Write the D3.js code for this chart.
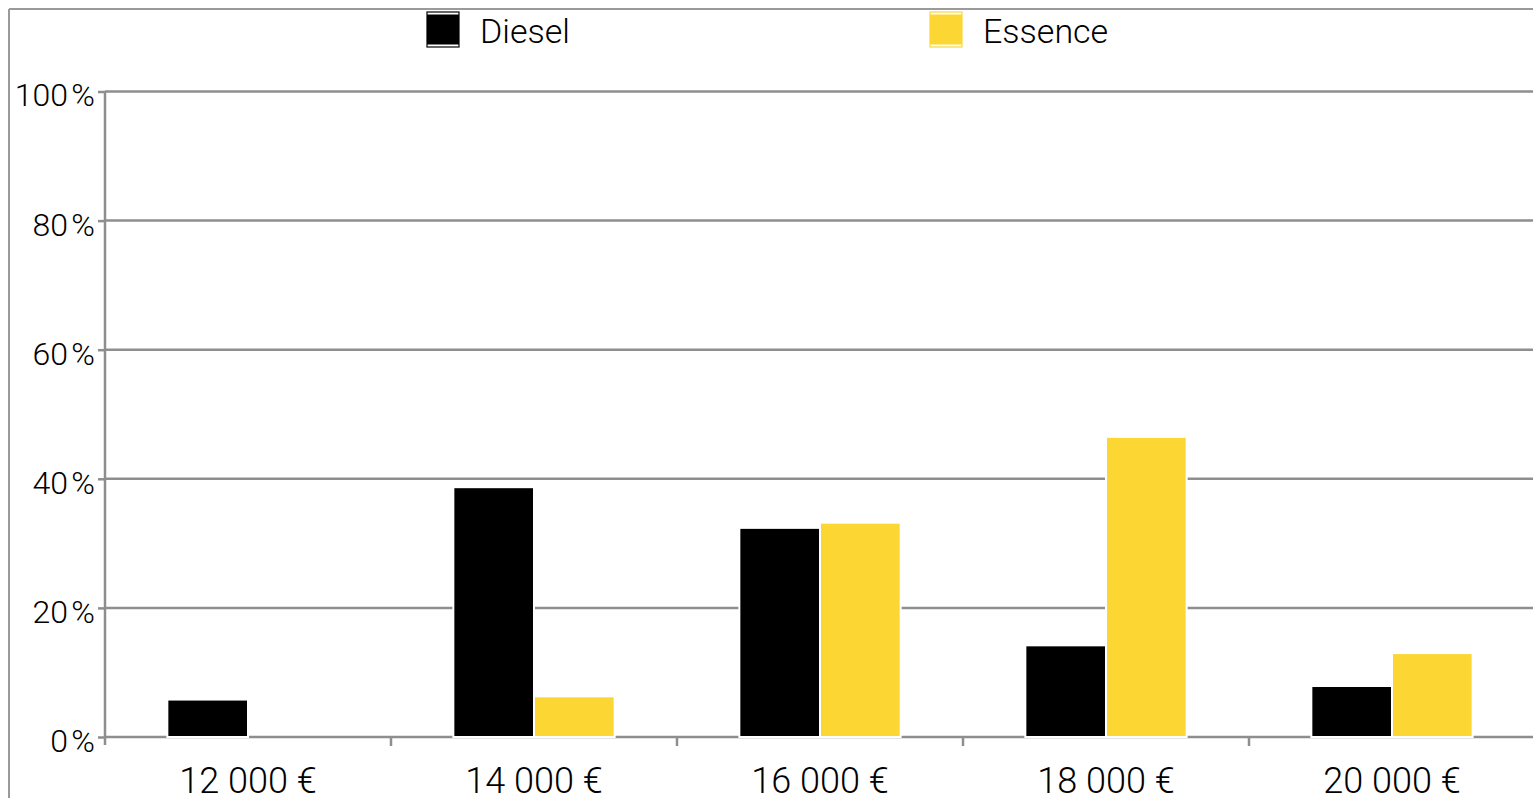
<!DOCTYPE html>
<html><head><meta charset="utf-8">
<script src="https://cdn.jsdelivr.net/npm/d3@7"></script>
<style>
html,body{margin:0;padding:0;background:#fff;overflow:hidden}
text{font-family:Roboto,"Liberation Sans",sans-serif;font-weight:300;fill:#000}
</style></head>
<body>
<svg id="c" width="1533" height="798"></svg>
<script>
const categories = ["12 000 €","14 000 €","16 000 €","18 000 €","20 000 €"];
const seriesNames = ["Diesel","Essence"];
const diesel = [5.8, 38.7, 32.4, 14.2, 7.9];
const essence = [0, 6.3, 33.2, 46.5, 13.0];
const yTicks = [0,20,40,60,80,100];
const colors = ["#000000","#fcd733"];

const svg = d3.select("#c");
const W = 1533, H = 798;
const m = {left:105, top:91.5, right:-2, bottom:61};
const x0 = d3.scaleBand().domain(categories).range([m.left, W - m.right]).padding(0);
const bw = x0.bandwidth();
const x1 = d3.scaleBand().domain(seriesNames).range([bw*0.218, bw*0.782]).padding(0);
const y = d3.scaleLinear().domain([0,100]).range([H - m.bottom, m.top]);
const grey = "#8e8e8e";

// outer frame
svg.append("line").attr("x1",9).attr("x2",W).attr("y1",9).attr("y2",9).attr("stroke","#9a9a9a").attr("stroke-width",2);
svg.append("line").attr("x1",9).attr("x2",9).attr("y1",9).attr("y2",H).attr("stroke","#9a9a9a").attr("stroke-width",2);

// gridlines
svg.append("g").selectAll("line").data(yTicks).join("line")
  .attr("x1", m.left).attr("x2", W).attr("y1", d=>y(d)).attr("y2", d=>y(d))
  .attr("stroke", grey).attr("stroke-width", 2.5);

// y axis
const yAxis = d3.axisLeft(y).tickValues(yTicks).tickSize(7).tickPadding(3).tickFormat(d => d + "\u200A%");
const gy = svg.append("g").attr("transform",`translate(${m.left},0)`).call(yAxis);
gy.select(".domain").attr("stroke", grey).attr("stroke-width", 2.5).attr("d", `M0,${y(100)}V${y(0)+8}`);
gy.selectAll(".tick line").attr("stroke", grey).attr("stroke-width", 2.5);
gy.selectAll(".tick text").attr("font-size", 32).attr("dy","0.45em").style("font-family","Roboto,sans-serif").style("font-weight",300).attr("fill","#000");

// x axis
const xAxis = d3.axisBottom(x0).tickSize(0).tickPadding(0);
const gx = svg.append("g").attr("transform",`translate(0,${y(0)})`).call(xAxis);
gx.select(".domain").remove();
gx.selectAll(".tick text").attr("font-size", 36).attr("y", 56).attr("dy", 0).style("font-family","Roboto,sans-serif").style("font-weight",300).attr("fill","#000");
// band boundary ticks
svg.append("g").selectAll("line").data(categories.slice(1)).join("line")
  .attr("x1", d=>x0(d)).attr("x2", d=>x0(d)).attr("y1", y(0)).attr("y2", y(0)+9)
  .attr("stroke", grey).attr("stroke-width", 2.5);

// bars
const rows = categories.map((c,i)=>({cat:c, vals:[diesel[i], essence[i]]}));
const groups = svg.append("g").selectAll("g").data(rows).join("g")
  .attr("transform", d=>`translate(${x0(d.cat)},0)`);
groups.selectAll("rect").data(d=>d.vals.map((v,j)=>({s:seriesNames[j], v, j}))).join("rect")
  .filter(d=>d.v>0)
  .attr("x", d=>x1(d.s)).attr("width", x1.bandwidth())
  .attr("y", d=>y(d.v)).attr("height", d=>y(0)-y(d.v))
  .attr("fill", d=>colors[d.j]).attr("stroke","#fff").attr("stroke-width",2);

// legend
const legX = [427, 930];
const lg = svg.append("g").selectAll("g").data(seriesNames).join("g")
  .attr("transform",(d,i)=>`translate(${legX[i]},12)`);
lg.append("rect").attr("x",0).attr("y",0).attr("width",32).attr("height",35)
  .attr("fill","none").attr("stroke",(d,i)=>colors[i]).attr("stroke-width",1.2);
lg.append("rect").attr("x",0).attr("y",2.5).attr("width",32).attr("height",30)
  .attr("fill",(d,i)=>colors[i]);
lg.append("text").attr("x",53).attr("y",31).attr("font-size",34).text(d=>d);
</script>
</body></html>
